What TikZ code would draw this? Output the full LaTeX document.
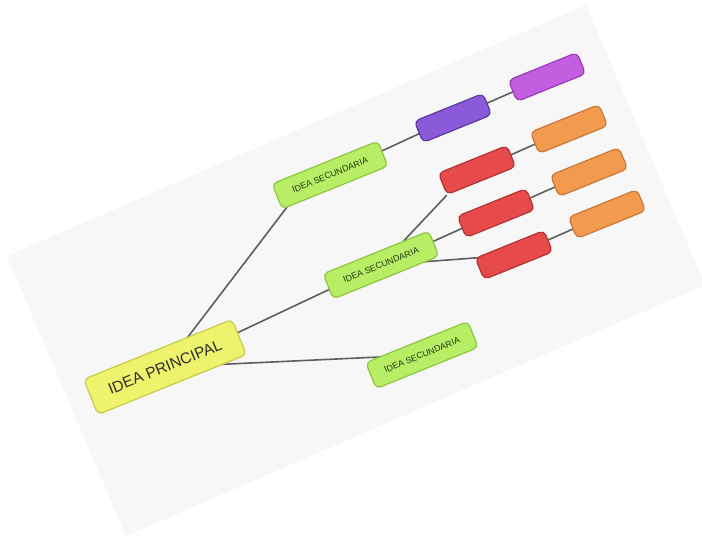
\documentclass[tikz,border=0pt]{standalone}
\usepackage{fontspec}
\setmainfont{Liberation Sans}
\usetikzlibrary{backgrounds,calc}
\definecolor{pagebg}{HTML}{F7F7F7}
\definecolor{linec}{HTML}{5E5E5E}
\definecolor{yfill}{HTML}{EEF26C}
\definecolor{ydraw}{HTML}{C6CC4A}
\definecolor{gfill}{HTML}{B8EE66}
\definecolor{gdraw}{HTML}{8CC640}
\definecolor{p1fill}{HTML}{8A5AD8}
\definecolor{p1draw}{HTML}{5C3AA0}
\definecolor{p2fill}{HTML}{C45EE0}
\definecolor{p2draw}{HTML}{9A3CB8}
\definecolor{rfill}{HTML}{E64A4A}
\definecolor{rdraw}{HTML}{B43434}
\definecolor{ofill}{HTML}{F29A4E}
\definecolor{odraw}{HTML}{C8783A}
\definecolor{txt}{HTML}{2E2E2E}
\definecolor{gtxt}{HTML}{263614}
\begin{document}
\begin{tikzpicture}[x=1pt,y=-1pt,
  box/.style={rounded corners=5pt, draw, line width=1.2pt, rotate=22, inner sep=0pt, align=center},
  mainbox/.style={box, fill=yfill, draw=ydraw, minimum width=160pt, minimum height=38pt,
     font=\fontsize{15.5}{18}\selectfont, text=txt},
  secbox/.style={box, fill=gfill, draw=gdraw, minimum width=114pt, minimum height=27pt,
     font=\fontsize{8.8}{10}\selectfont, text=gtxt},
  smallbox/.style={box, minimum width=74pt, minimum height=23pt},
  pone/.style={smallbox, fill=p1fill, draw=p1draw},
  ptwo/.style={smallbox, fill=p2fill, draw=p2draw},
  redbox/.style={smallbox, fill=rfill, draw=rdraw},
  orbox/.style={smallbox, fill=ofill, draw=odraw},
  conn/.style={draw=linec, line width=1.6pt}
]
\useasboundingbox (0,0) rectangle (702,536);

\node[mainbox] (main) at (165,367) {IDEA PRINCIPAL};
\node[secbox] (sec1) at (330,175) {IDEA SECUNDARIA};
\node[secbox] (sec2) at (381,265) {IDEA SECUNDARIA};
\node[secbox, minimum width=110pt, minimum height=28pt] (sec3) at (422,355) {IDEA SECUNDARIA};

\node[pone] (pa) at (453,118) {};
\node[ptwo] (pb) at (547,77) {};

\node[redbox] (r1) at (477,170) {};
\node[redbox] (r2) at (496,213) {};
\node[redbox] (r3) at (514,255) {};

\node[orbox] (o1) at (569,129) {};
\node[orbox] (o2) at (589,172) {};
\node[orbox] (o3) at (607,214) {};

\begin{pgfonlayer}{background}
  \fill[white] (0,0) rectangle (702,536);
  \fill[pagebg] (7,256) -- (586,5) -- (705,285) -- (126,536) -- cycle;
  \draw[conn] (main.center) -- ($(sec1.west)!0.5!(sec1.center)$);
  \draw[conn] (main.center) -- (sec2.center);
  \draw[conn] (main.center) -- (sec3.center);
  \draw[conn] (sec1.center) -- (pa.center);
  \draw[conn] (pa.center) -- (pb.center);
  \draw[conn] (sec2.center) -- (r1.south west);
  \draw[conn] (sec2.center) -- (r2.center);
  \draw[conn] (sec2.center) -- (r3.center);
  \draw[conn] (r1.center) -- (o1.center);
  \draw[conn] (r2.center) -- (o2.center);
  \draw[conn] (r3.center) -- (o3.center);
\end{pgfonlayer}
\end{tikzpicture}
\end{document}
